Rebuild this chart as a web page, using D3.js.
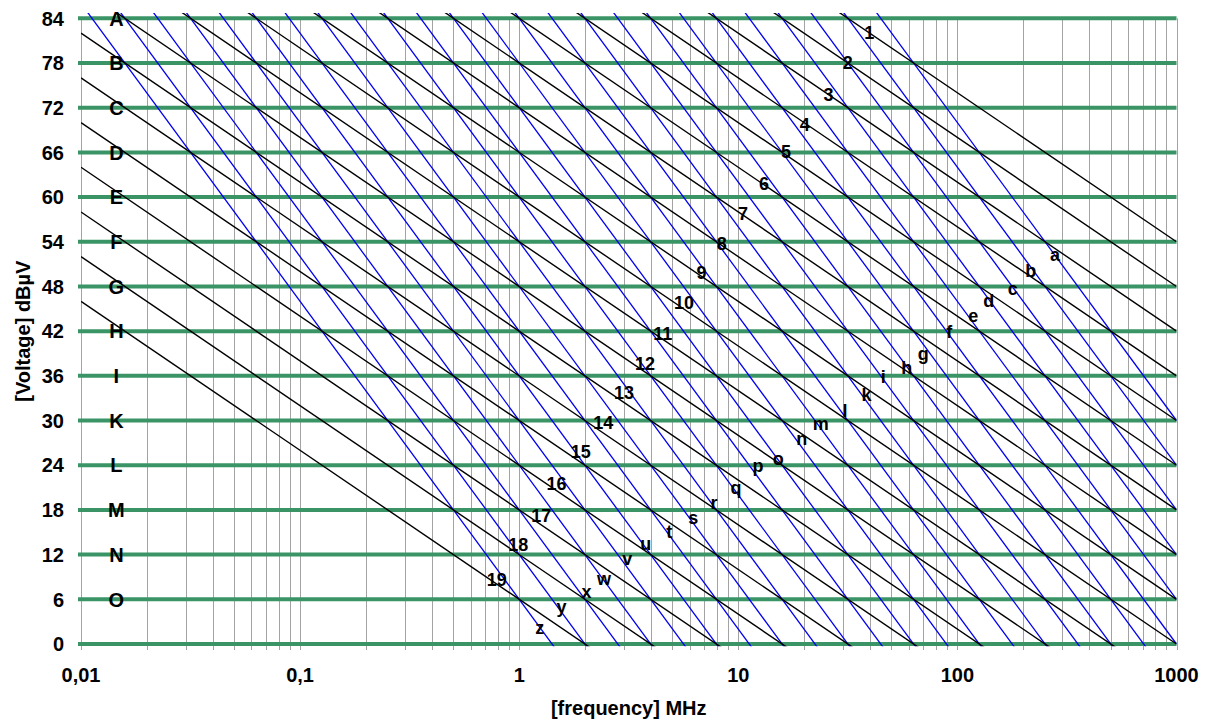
<!DOCTYPE html>
<html>
<head>
<meta charset="utf-8">
<script src="https://cdn.jsdelivr.net/npm/d3@7"></script>
<style>
  body { margin: 0; background: #fff; }
  svg { display: block; font-family: "Liberation Sans", Arial, sans-serif; font-weight: bold; }
</style>
</head>
<body>
<svg id="chart"></svg>
<script>
const width = 1208, height = 722;

// green reference levels (dBµV) and their letters
const levelTicks = [0, 6, 12, 18, 24, 30, 36, 42, 48, 54, 60, 66, 72, 78, 84];
const levelLetters = ["A", "B", "C", "D", "E", "F", "G", "H", "I", "K", "L", "M", "N", "O"];
const levelLetterValues = [84, 78, 72, 66, 60, 54, 48, 42, 36, 30, 24, 18, 12, 6];
const levelLetterFreq = 0.0145;

const freqTicks = [0.01, 0.1, 1, 10, 100, 1000];
const freqTickLabels = ["0,01", "0,1", "1", "10", "100", "1000"];

// black lines (-20 dB/decade), level read at 1 MHz
const blackSlope = -20;
const blackAt1MHz = [114, 108, 102, 96, 90, 84, 78, 72, 66, 60, 54, 48, 42, 36, 30, 24, 18, 12, 6];
const blackLabels = ["1", "2", "3", "4", "5", "6", "7", "8", "9", "10",
  "11", "12", "13", "14", "15", "16", "17", "18", "19"];
const blackLabelFreq = [39.6, 31.6, 25.8, 20.1, 16.5, 13.1, 10.5, 8.4, 6.8, 5.65,
  4.52, 3.75, 3.01, 2.42, 1.91, 1.48, 1.26, 0.99, 0.79];
const blackLabelLevel = [82.1, 78.0, 73.8, 69.8, 66.1, 61.8, 57.8, 53.7, 49.9, 45.8,
  41.7, 37.7, 33.7, 29.7, 25.8, 21.5, 17.3, 13.4, 8.6];

// blue lines (-40 dB/decade), level read at 1 MHz
const blueSlope = -40;
const blueAt1MHz = [150, 144, 138, 132, 126, 120, 114, 108, 102, 96, 90, 84, 78,
  72, 66, 60, 54, 48, 42, 36, 30, 24, 18, 12, 6];
const blueLabels = ["a", "b", "c", "d", "e", "f", "g", "h", "i", "k", "l", "m", "n",
  "o", "p", "q", "r", "s", "t", "u", "v", "w", "x", "y", "z"];
const blueLabelFreq = [279, 216, 179, 139, 118, 91.8, 69.8, 58.7, 45.9, 38.5, 30.7, 23.8, 19.5,
  15.2, 12.3, 9.76, 7.74, 6.23, 4.84, 3.78, 3.11, 2.44, 2.03, 1.56, 1.24];
const blueLabelLevel = [52.2, 50.0, 47.6, 46.0, 44.0, 41.8, 38.9, 37.0, 35.7, 33.4, 31.2, 29.4, 27.4,
  24.7, 23.8, 20.9, 18.8, 16.9, 14.9, 13.4, 11.3, 8.7, 6.9, 4.9, 2.1];

const svg = d3.select("#chart").attr("width", width).attr("height", height);

const x = d3.scaleLog().domain([0.01, 1000]).range([81, 1176.5]);
const y = d3.scaleLinear().domain([0, 84]).range([644, 18.3]);

// clip for the slanted lines (plot area reaches a bit above 84)
svg.append("defs").append("clipPath").attr("id", "plotClip")
  .append("rect")
  .attr("x", x(0.01)).attr("y", y(84.7))
  .attr("width", x(1000) - x(0.01)).attr("height", y(-0.3) - y(84.7));

// vertical grid at every minor log tick
const gridFreqs = x.ticks();
svg.append("g")
  .selectAll("line")
  .data(gridFreqs)
  .enter()
  .append("line")
  .attr("x1", d => Math.round(x(d)) + 0.5)
  .attr("x2", d => Math.round(x(d)) + 0.5)
  .attr("y1", y(84))
  .attr("y2", 650)
  .attr("stroke", "#a3a3a3")
  .attr("stroke-width", 1);

// green levels
svg.append("g")
  .selectAll("line")
  .data(levelTicks)
  .enter()
  .append("line")
  .attr("x1", 78)
  .attr("x2", x(1000))
  .attr("y1", d => y(d))
  .attr("y2", d => y(d))
  .attr("stroke", "#3a9466")
  .attr("stroke-width", 4);

const line = d3.line().x(d => x(d[0])).y(d => y(d[1]));
const ends = [0.01, 1000];
const lineGroup = svg.append("g").attr("clip-path", "url(#plotClip)");

// blue family
lineGroup.selectAll(".blue")
  .data(blueAt1MHz)
  .enter()
  .append("path")
  .attr("class", "blue")
  .attr("d", v => line(ends.map(f => [f, v + blueSlope * Math.log10(f)])))
  .attr("fill", "none")
  .attr("stroke", "#0000ee")
  .attr("stroke-width", 1.3);

// black family
lineGroup.selectAll(".black")
  .data(blackAt1MHz)
  .enter()
  .append("path")
  .attr("class", "black")
  .attr("d", v => line(ends.map(f => [f, v + blackSlope * Math.log10(f)])))
  .attr("fill", "none")
  .attr("stroke", "#000")
  .attr("stroke-width", 1.4);

// y tick labels
svg.append("g")
  .selectAll("text")
  .data(levelTicks)
  .enter()
  .append("text")
  .attr("x", 64)
  .attr("y", d => y(d))
  .attr("dy", "0.36em")
  .attr("text-anchor", "end")
  .style("font-size", "20px")
  .text(d => d);

// x tick labels
svg.append("g")
  .selectAll("text")
  .data(freqTicks)
  .enter()
  .append("text")
  .attr("x", d => x(d))
  .attr("y", 675)
  .attr("dy", "0.36em")
  .attr("text-anchor", "middle")
  .style("font-size", "20px")
  .text((d, i) => freqTickLabels[i]);

// letters on the green levels
svg.append("g")
  .selectAll("text")
  .data(levelLetters)
  .enter()
  .append("text")
  .attr("x", x(levelLetterFreq))
  .attr("y", (d, i) => y(levelLetterValues[i]))
  .attr("dy", "0.36em")
  .attr("text-anchor", "middle")
  .style("font-size", "20px")
  .text(d => d);

// numbers on black lines
svg.append("g")
  .selectAll("text")
  .data(blackLabels)
  .enter()
  .append("text")
  .attr("x", (d, i) => x(blackLabelFreq[i]))
  .attr("y", (d, i) => y(blackLabelLevel[i]))
  .attr("dy", "0.36em")
  .attr("text-anchor", "middle")
  .style("font-size", "18px")
  .text(d => d);

// letters on blue lines
svg.append("g")
  .selectAll("text")
  .data(blueLabels)
  .enter()
  .append("text")
  .attr("x", (d, i) => x(blueLabelFreq[i]))
  .attr("y", (d, i) => y(blueLabelLevel[i]))
  .attr("dy", "0.3em")
  .attr("text-anchor", "middle")
  .style("font-size", "18px")
  .text(d => d);

// axis titles
svg.append("text")
  .attr("x", (x(0.01) + x(1000)) / 2)
  .attr("y", 708)
  .attr("dy", "0.36em")
  .attr("text-anchor", "middle")
  .style("font-size", "20px")
  .text("[frequency] MHz");

svg.append("text")
  .attr("transform", `translate(23, ${(y(0) + y(84)) / 2}) rotate(-90)`)
  .attr("dy", "0.36em")
  .attr("text-anchor", "middle")
  .style("font-size", "20px")
  .text("[Voltage] dBµV");
</script>
</body>
</html>
